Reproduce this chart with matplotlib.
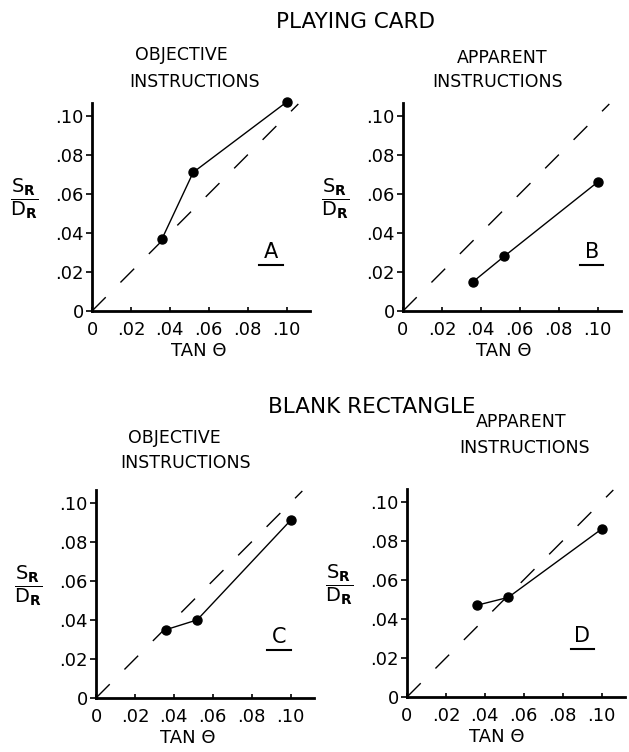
import matplotlib
matplotlib.use("Agg")
import matplotlib.pyplot as plt

plt.rcParams['font.family'] = 'DejaVu Sans'
plt.rcParams['mathtext.fontset'] = 'dejavusans'

# tan theta values (same three conditions in every panel)
tan_theta = [0.036, 0.052, 0.100]

# S_R / D_R
card_objective = [0.037, 0.071, 0.107]
card_apparent = [0.015, 0.028, 0.066]
blank_objective = [0.035, 0.040, 0.091]
blank_apparent = [0.047, 0.051, 0.086]

# y = x reference line
identity = [0.0, 0.106]

ticks = [0, 0.02, 0.04, 0.06, 0.08, 0.10]
tick_labels = ['0', '.02', '.04', '.06', '.08', '.10']

panels = [
    (card_objective, 'A', ['OBJECTIVE', 'INSTRUCTIONS']),
    (card_apparent, 'B', ['APPARENT', 'INSTRUCTIONS']),
    (blank_objective, 'C', ['OBJECTIVE', 'INSTRUCTIONS']),
    (blank_apparent, 'D', ['APPARENT', 'INSTRUCTIONS']),
]

W, H = 629, 752
fig = plt.figure(figsize=(W / 100, H / 100), dpi=100)

# layout in pixels: left, bottom of axes
ax_px = [(92, 311), (403, 311), (96, 698), (407, 697)]
ax_w, ax_h = 218, 208
# subtitle centres (x line1, y line1, x line2, y line2) in pixels, y = cap centre
sub_px = [(181, 54, 195, 81), (502, 57, 498, 81),
          (174, 437, 186, 462), (521, 421, 525, 447)]
letter_pos = [(0.092, 0.030), (0.097, 0.030), (0.094, 0.031), (0.090, 0.031)]
xlabel_x = [0.49, 0.46, 0.42, 0.41]


def fig_caps(x, y, s, size):
    # place all-caps text with its cap centre at pixel (x, y)
    cap = size * 100 / 72 * 0.73
    fig.text(x / W, 1 - (y + cap / 2) / H, s, ha='center', va='baseline',
             fontsize=size)


for i, (vals, letter, sub) in enumerate(panels):
    left, bottom = ax_px[i]
    ax = fig.add_axes([left / W, (H - bottom) / H, ax_w / W, ax_h / H])
    ax.plot(identity, identity, color='k', lw=1.0, dashes=(14, 15))
    ax.plot(tan_theta, vals, color='k', lw=1.0, marker='o', ms=6.5,
            clip_on=False, zorder=3)
    ax.set_xlim(0, 0.112)
    ax.set_ylim(0, 0.1065)
    for s in ['top', 'right']:
        ax.spines[s].set_visible(False)
    for s in ['left', 'bottom']:
        ax.spines[s].set_linewidth(2.0)
    ax.set_xticks(ticks)
    ax.set_xticklabels(tick_labels)
    ax.set_yticks(ticks)
    ax.set_yticklabels(tick_labels)
    ax.tick_params(axis='y', direction='out', length=4, width=1.2, pad=2,
                   labelsize=13)
    ax.tick_params(axis='x', direction='in', length=3, width=1.2, pad=7,
                   labelsize=13)

    ax.text(xlabel_x[i], -0.19, 'TAN Θ', transform=ax.transAxes,
            ha='center', va='center', fontsize=13)
    ax.text(-0.31, 0.54, r'$\dfrac{\mathrm{S}_{\mathbf{R}}}{\mathrm{D}_{\mathbf{R}}}$',
            transform=ax.transAxes, ha='center', va='center', fontsize=14)

    lx, ly = letter_pos[i]
    ax.text(lx, ly, letter, ha='center', va='center', fontsize=15)
    ax.plot([lx - 0.006, lx + 0.006], [ly - 0.0065, ly - 0.0065],
            color='k', lw=1.5)

    x1, y1, x2, y2 = sub_px[i]
    fig_caps(x1, y1, sub[0], 12.5)
    fig_caps(x2, y2, sub[1], 12.5)

fig_caps(356, 20, 'PLAYING CARD', 15.5)
fig_caps(372, 405, 'BLANK RECTANGLE', 15.5)

fig.savefig('out.png', dpi=100)
